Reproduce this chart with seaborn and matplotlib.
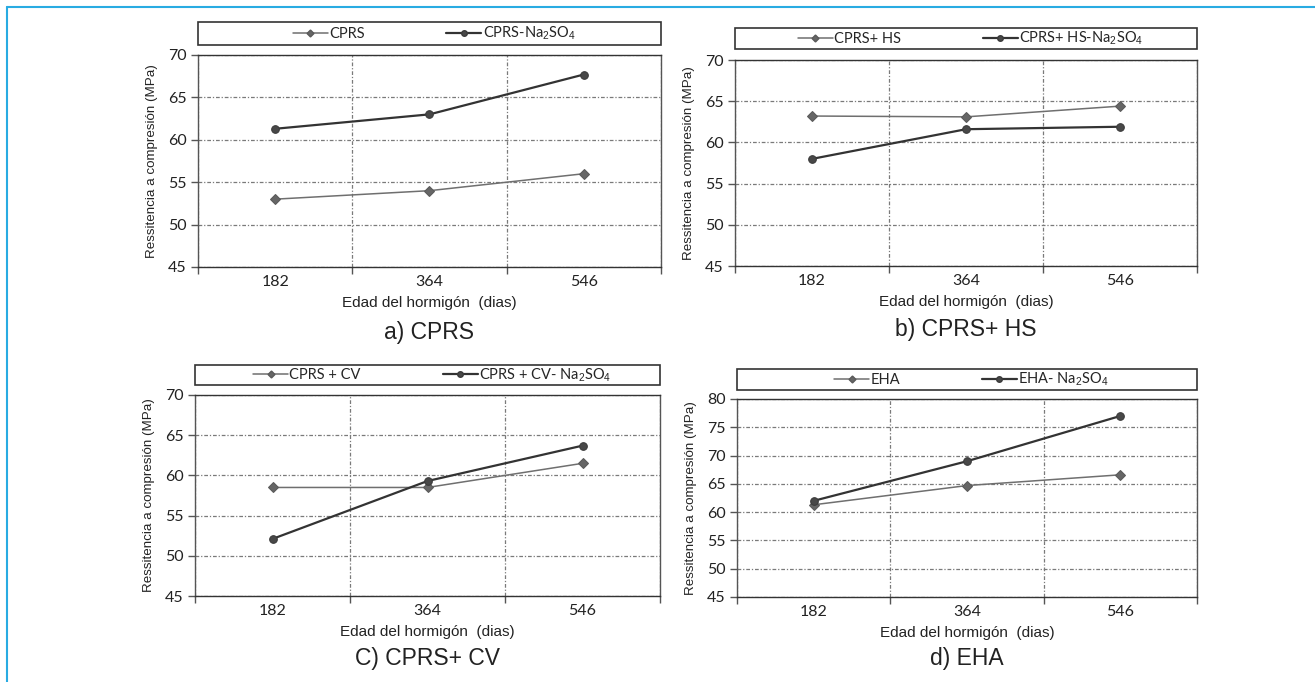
import matplotlib
matplotlib.use("Agg")
import matplotlib.pyplot as plt
from matplotlib.lines import Line2D
from matplotlib.patches import Rectangle
import seaborn as sns
import numpy as np
import pandas as pd

# ---- data ----
edades = ["182", "364", "546"]

cprs = [53.0, 54.0, 56.0]
cprs_na = [61.3, 63.0, 67.7]

hs = [63.2, 63.1, 64.4]
hs_na = [58.0, 61.6, 61.9]

cv = [58.5, 58.5, 61.5]
cv_na = [52.1, 59.3, 63.7]

eha = [61.3, 64.7, 66.6]
eha_na = [62.0, 69.0, 77.0]

labels_a = ["CPRS", r"CPRS-Na$_2$SO$_4$"]
labels_b = ["CPRS+ HS", r"CPRS+ HS-Na$_2$SO$_4$"]
labels_c = ["CPRS + CV", r"CPRS + CV- Na$_2$SO$_4$"]
labels_d = ["EHA", r"EHA- Na$_2$SO$_4$"]

titles = ["a) CPRS", "b) CPRS+ HS", "C) CPRS+ CV", "d) EHA"]
ylims = [(45, 70), (45, 70), (45, 70), (45, 80)]
yticks_list = [list(range(45, 71, 5)), list(range(45, 71, 5)),
               list(range(45, 71, 5)), list(range(45, 81, 5))]

xlabel = "Edad del hormigón  (dias)"
ylabel = "Ressitencia a compresión (MPa)"

# ---- style ----
sns.set_theme(style="white")
plt.rcParams["font.family"] = ["Liberation Sans", "DejaVu Sans"]
plt.rcParams["mathtext.fontset"] = "custom"
plt.rcParams["mathtext.rm"] = "Liberation Sans"
plt.rcParams["mathtext.it"] = "Liberation Sans"

W, H = 1315, 682
fig = plt.figure(figsize=(W / 100, H / 100), dpi=100)

# pixel boxes: left, right, top, bottom  (plot area) and legend top/bottom
boxes = [
    (198, 661, 55, 267, 22, 45),
    (735, 1197, 60, 266, 28, 49),
    (195, 660, 395, 596, 365, 385),
    (737, 1197, 399, 597, 369, 390),
]
series = [(cprs, cprs_na, labels_a), (hs, hs_na, labels_b),
          (cv, cv_na, labels_c), (eha, eha_na, labels_d)]

light = "#6f6f6f"
dark = "#333333"
spine_c = "#555555"
tick_font = "Lato"
grid_ls = (0, (3, 1.5, 1, 1.5))

for i, (l, r, t, b, lt, lb) in enumerate(boxes):
    ax = fig.add_axes([l / W, 1 - b / H, (r - l) / W, (b - t) / H])
    s1, s2, labs = series[i]
    xpos = np.arange(len(edades))
    df = pd.DataFrame({"x": np.concatenate([xpos, xpos]),
                       "y": s1 + s2,
                       "serie": [labs[0]] * 3 + [labs[1]] * 3})
    sns.lineplot(data=df[df.serie == labs[0]], x="x", y="y", ax=ax,
                 color=light, linewidth=1.1, marker="D", markersize=5,
                 markeredgecolor="#5a5a5a", markerfacecolor="#666666",
                 label=labs[0], legend=False)
    sns.lineplot(data=df[df.serie == labs[1]], x="x", y="y", ax=ax,
                 color=dark, linewidth=1.6, marker="o", markersize=5.5,
                 markeredgecolor="#3a3a3a", markerfacecolor="#484848",
                 label=labs[1], legend=False)

    ax.set_xlim(-0.5, len(edades) - 0.5)
    ax.set_ylim(*ylims[i])
    ax.set_yticks(yticks_list[i])
    ax.set_yticklabels([str(v) for v in yticks_list[i]], fontfamily=tick_font, fontsize=11.5)
    ax.set_xticks(np.arange(-0.5, len(edades), 1.0))
    ax.set_xticklabels([])
    ax.set_xticks(xpos, minor=True)
    ax.set_xticklabels(edades, minor=True, fontfamily=tick_font, fontsize=11.5)
    ax.tick_params(axis="x", which="major", direction="out", length=5, width=1, color=spine_c, bottom=True)
    ax.tick_params(axis="x", which="minor", length=0, pad=6, colors="#222222")
    ax.tick_params(axis="y", direction="out", length=5, width=1, color=spine_c, left=True, pad=3, labelcolor="#222222")

    ax.grid(True, axis="y", linestyle=grid_ls, color="#7a7a7a", linewidth=0.9)
    ax.grid(True, axis="x", which="major", linestyle=grid_ls, color="#7a7a7a", linewidth=0.9)
    for sp in ax.spines.values():
        sp.set_visible(True)
        sp.set_color(spine_c)
        sp.set_linewidth(1.0)
    ax.spines["top"].set_color("#333333")
    ax.spines["bottom"].set_color("#333333")

    ax.set_xlabel(xlabel, fontsize=11, color="#222222", labelpad=5)
    ax.set_ylabel(ylabel, fontsize=9.6, color="#222222", labelpad=7)
    ax.text(0.5, -0.31, titles[i], transform=ax.transAxes, ha="center", va="center",
            fontsize=16.5, color="#222222")

    # legend box above plot
    lh = (lb - lt) / (b - t)
    ly0 = (b - lb) / (b - t)
    rect = Rectangle((0, ly0), 1, lh, transform=ax.transAxes, fill=False,
                     edgecolor="#333333", linewidth=1.2, clip_on=False)
    ax.add_patch(rect)
    handles = [Line2D([], [], color=light, linewidth=1.1, marker="D", markersize=3.5,
                      markerfacecolor="#666666", markeredgecolor="#5a5a5a"),
               Line2D([], [], color=dark, linewidth=1.6, marker="o", markersize=4,
                      markerfacecolor="#484848", markeredgecolor="#3a3a3a")]
    ax.legend(handles, labs, loc="center", bbox_to_anchor=(0.51, ly0 + lh / 2),
              ncol=2, frameon=False, handlelength=2.4, handletextpad=0.1,
              columnspacing=5.6, borderaxespad=0,
              prop={"family": tick_font, "size": 10.5})

# blue frame (top and left edges)
fig.add_artist(Line2D([7 / W, 1], [1 - 7 / H, 1 - 7 / H], transform=fig.transFigure,
                      color="#29abe2", linewidth=1.5))
fig.add_artist(Line2D([7 / W, 7 / W], [0, 1 - 7 / H], transform=fig.transFigure,
                      color="#29abe2", linewidth=1.5))

fig.savefig("out.png", dpi=100, facecolor="white")
